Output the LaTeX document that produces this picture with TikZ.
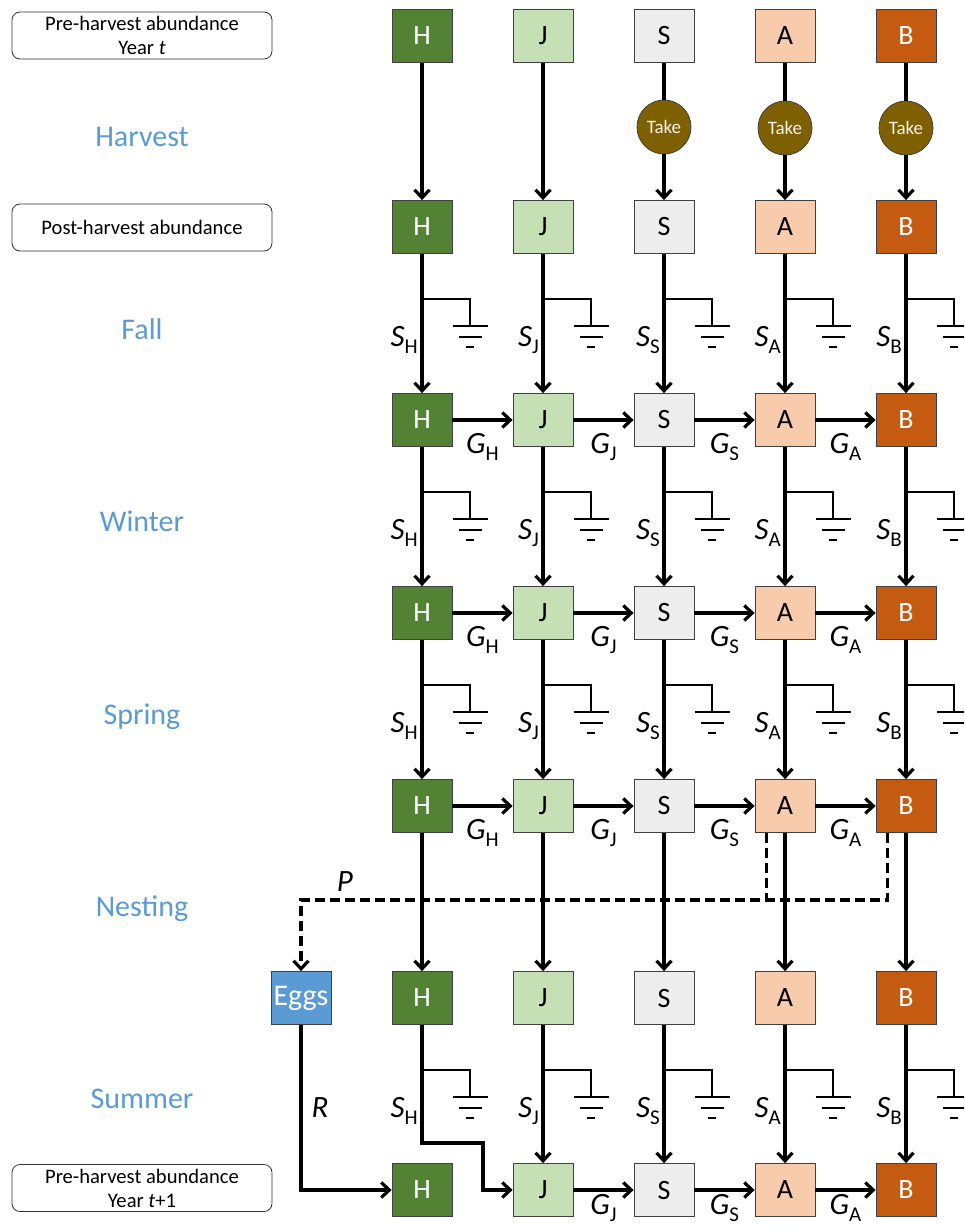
\documentclass[tikz,border=0pt]{standalone}
\usepackage{fontspec}
\setmainfont{Carlito}
\usetikzlibrary{arrows.meta}
\definecolor{hcol}{HTML}{548235}
\definecolor{jcol}{HTML}{C5E0B4}
\definecolor{scol}{HTML}{EDEDED}
\definecolor{acol}{HTML}{F8CBAD}
\definecolor{bcol}{HTML}{C55A11}
\definecolor{eggcol}{HTML}{5B9BD5}
\definecolor{takecol}{HTML}{7F6000}
\definecolor{seasoncol}{HTML}{5B9BD5}
\newcommand{\lbl}[2]{\textit{#1}\raisebox{-7pt}{\fontsize{21}{21}\selectfont#2}}

\begin{document}
\begin{tikzpicture}[x=1pt,y=1pt]
 	\tikzstyle{every node}+=[inner sep=0pt]
 	\tikzstyle{box}=[draw=black!75, line width=0.8pt, minimum width=60pt, minimum height=53pt, font=\fontsize{28}{30}\selectfont]
 	\tikzstyle{hbox}=[box, fill=hcol, text=white]
 	\tikzstyle{jbox}=[box, fill=jcol]
 	\tikzstyle{sbox}=[box, fill=scol]
 	\tikzstyle{abox}=[box, fill=acol]
 	\tikzstyle{bbox}=[box, fill=bcol, text=white]
 	\tikzstyle{eggbox}=[box, fill=eggcol, text=white, font=\fontsize{30}{30}\selectfont]
 	\tikzstyle{take}=[circle, draw=black!75, line width=0.8pt, fill=takecol, text=takecol!8, minimum size=54pt, font=\fontsize{19}{20}\selectfont]
 	\tikzstyle{stage}=[draw=black!80, line width=0.8pt, rounded corners=8pt, minimum width=260pt, minimum height=47pt, align=center, font=\fontsize{20.6}{24}\selectfont]
 	\tikzstyle{season}=[text=seasoncol, font=\fontsize{30}{32}\selectfont, anchor=base]
 	\tikzstyle{rate}=[font=\fontsize{31}{31}\selectfont, anchor=base]
 	\tikzstyle{surv}=[rate, anchor=base east]
 	\tikzstyle{arr}=[line width=3.2pt, -{Straight Barb[length=8pt,width=15pt]}]
 	\tikzstyle{gnd}=[line width=2pt]
 	\tikzstyle{dsh}=[line width=3.2pt, dash pattern=on 10pt off 5pt]
 	\tikzstyle{dsharr}=[dsh, -{Straight Barb[length=8pt,width=15pt]}]
 	\clip (0,0) rectangle (964,-1230);
 	\draw (142,-35.5) node [stage] (pre0) {Pre-harvest abundance\\Year \textit{t}};
 	\draw (142,-227.5) node [stage] (post) {Post-harvest abundance};
 	\draw (142,-1188) node [stage] (pre1) {Pre-harvest abundance\\Year \textit{t}+1};
 	\draw (142,-147) node [season] (harvest) {Harvest};
 	\draw (142,-339) node [season] (fall) {Fall};
 	\draw (142,-531) node [season] (winter) {Winter};
 	\draw (142,-724) node [season] (spring) {Spring};
 	\draw (142,-916) node [season] (nesting) {Nesting};
 	\draw (142,-1108) node [season] (summer) {Summer};
 	\draw (422,-36) node [hbox] (h0) {H};
 	\draw (543,-36) node [jbox] (j0) {J};
 	\draw (664,-36) node [sbox] (s0) {S};
 	\draw (785,-36) node [abox] (a0) {A};
 	\draw (906,-36) node [bbox] (b0) {B};
 	\draw (664,-127) node [take] (tks) {Take};
 	\draw (785,-128) node [take] (tka) {Take};
 	\draw (906,-128) node [take] (tkb) {Take};
 	\draw (422,-227) node [hbox] (h1) {H};
 	\draw (543,-227) node [jbox] (j1) {J};
 	\draw (664,-227) node [sbox] (s1) {S};
 	\draw (785,-227) node [abox] (a1) {A};
 	\draw (906,-227) node [bbox] (b1) {B};
 	\draw (422,-420) node [hbox] (h2) {H};
 	\draw (543,-420) node [jbox] (j2) {J};
 	\draw (664,-420) node [sbox] (s2) {S};
 	\draw (785,-420) node [abox] (a2) {A};
 	\draw (906,-420) node [bbox] (b2) {B};
 	\draw (422,-613) node [hbox] (h3) {H};
 	\draw (543,-613) node [jbox] (j3) {J};
 	\draw (664,-613) node [sbox] (s3) {S};
 	\draw (785,-613) node [abox] (a3) {A};
 	\draw (906,-613) node [bbox] (b3) {B};
 	\draw (422,-806) node [hbox] (h4) {H};
 	\draw (543,-806) node [jbox] (j4) {J};
 	\draw (664,-806) node [sbox] (s4) {S};
 	\draw (785,-806) node [abox] (a4) {A};
 	\draw (906,-806) node [bbox] (b4) {B};
 	\draw (301,-998) node [eggbox] (eggs) {Eggs};
 	\draw (422,-998) node [hbox] (h5) {H};
 	\draw (543,-998) node [jbox] (j5) {J};
 	\draw (664,-998) node [sbox] (s5) {S};
 	\draw (785,-998) node [abox] (a5) {A};
 	\draw (906,-998) node [bbox] (b5) {B};
 	\draw (422,-1190) node [hbox] (h6) {H};
 	\draw (543,-1190) node [jbox] (j6) {J};
 	\draw (664,-1190) node [sbox] (s6) {S};
 	\draw (785,-1190) node [abox] (a6) {A};
 	\draw (906,-1190) node [bbox] (b6) {B};
 	\draw [arr] (h0) -- (h1);
 	\draw [arr] (j0) -- (j1);
 	\draw [line width=3.2pt] (s0) -- (tks);
 	\draw [arr] (tks) -- (s1);
 	\draw [line width=3.2pt] (a0) -- (tka);
 	\draw [arr] (tka) -- (a1);
 	\draw [line width=3.2pt] (b0) -- (tkb);
 	\draw [arr] (tkb) -- (b1);
 	\draw [gnd] (422,-299) -- ++(48,0) -- ++(0,-27) ++(-17.5,0) -- ++(35,0) ++(-29,-10.5) -- ++(23,0) ++(-15.5,-10.5) -- ++(8,0);
 	\draw [gnd] (543,-299) -- ++(48,0) -- ++(0,-27) ++(-17.5,0) -- ++(35,0) ++(-29,-10.5) -- ++(23,0) ++(-15.5,-10.5) -- ++(8,0);
 	\draw [gnd] (664,-299) -- ++(48,0) -- ++(0,-27) ++(-17.5,0) -- ++(35,0) ++(-29,-10.5) -- ++(23,0) ++(-15.5,-10.5) -- ++(8,0);
 	\draw [gnd] (785,-299) -- ++(48,0) -- ++(0,-27) ++(-17.5,0) -- ++(35,0) ++(-29,-10.5) -- ++(23,0) ++(-15.5,-10.5) -- ++(8,0);
 	\draw [gnd] (906,-299) -- ++(48,0) -- ++(0,-27) ++(-17.5,0) -- ++(35,0) ++(-29,-10.5) -- ++(23,0) ++(-15.5,-10.5) -- ++(8,0);
 	\draw [arr] (h1) -- (h2);
 	\draw [arr] (j1) -- (j2);
 	\draw [arr] (s1) -- (s2);
 	\draw [arr] (a1) -- (a2);
 	\draw [arr] (b1) -- (b2);
 	\draw (418,-346) node [surv] {\lbl{S}{H}};
 	\draw (539,-346) node [surv] {\lbl{S}{J}};
 	\draw (660,-346) node [surv] {\lbl{S}{S}};
 	\draw (781,-346) node [surv] {\lbl{S}{A}};
 	\draw (902,-346) node [surv] {\lbl{S}{B}};
 	\draw [arr] (h2) -- (j2);
 	\draw [arr] (j2) -- (s2);
 	\draw [arr] (s2) -- (a2);
 	\draw [arr] (a2) -- (b2);
 	\draw (482.5,-453) node [rate] {\lbl{G}{H}};
 	\draw (603.5,-453) node [rate] {\lbl{G}{J}};
 	\draw (724.5,-453) node [rate] {\lbl{G}{S}};
 	\draw (845.5,-453) node [rate] {\lbl{G}{A}};
 	\draw [gnd] (422,-492) -- ++(48,0) -- ++(0,-27) ++(-17.5,0) -- ++(35,0) ++(-29,-10.5) -- ++(23,0) ++(-15.5,-10.5) -- ++(8,0);
 	\draw [gnd] (543,-492) -- ++(48,0) -- ++(0,-27) ++(-17.5,0) -- ++(35,0) ++(-29,-10.5) -- ++(23,0) ++(-15.5,-10.5) -- ++(8,0);
 	\draw [gnd] (664,-492) -- ++(48,0) -- ++(0,-27) ++(-17.5,0) -- ++(35,0) ++(-29,-10.5) -- ++(23,0) ++(-15.5,-10.5) -- ++(8,0);
 	\draw [gnd] (785,-492) -- ++(48,0) -- ++(0,-27) ++(-17.5,0) -- ++(35,0) ++(-29,-10.5) -- ++(23,0) ++(-15.5,-10.5) -- ++(8,0);
 	\draw [gnd] (906,-492) -- ++(48,0) -- ++(0,-27) ++(-17.5,0) -- ++(35,0) ++(-29,-10.5) -- ++(23,0) ++(-15.5,-10.5) -- ++(8,0);
 	\draw [arr] (h2) -- (h3);
 	\draw [arr] (j2) -- (j3);
 	\draw [arr] (s2) -- (s3);
 	\draw [arr] (a2) -- (a3);
 	\draw [arr] (b2) -- (b3);
 	\draw (418,-539) node [surv] {\lbl{S}{H}};
 	\draw (539,-539) node [surv] {\lbl{S}{J}};
 	\draw (660,-539) node [surv] {\lbl{S}{S}};
 	\draw (781,-539) node [surv] {\lbl{S}{A}};
 	\draw (902,-539) node [surv] {\lbl{S}{B}};
 	\draw [arr] (h3) -- (j3);
 	\draw [arr] (j3) -- (s3);
 	\draw [arr] (s3) -- (a3);
 	\draw [arr] (a3) -- (b3);
 	\draw (482.5,-646) node [rate] {\lbl{G}{H}};
 	\draw (603.5,-646) node [rate] {\lbl{G}{J}};
 	\draw (724.5,-646) node [rate] {\lbl{G}{S}};
 	\draw (845.5,-646) node [rate] {\lbl{G}{A}};
 	\draw [gnd] (422,-685) -- ++(48,0) -- ++(0,-27) ++(-17.5,0) -- ++(35,0) ++(-29,-10.5) -- ++(23,0) ++(-15.5,-10.5) -- ++(8,0);
 	\draw [gnd] (543,-685) -- ++(48,0) -- ++(0,-27) ++(-17.5,0) -- ++(35,0) ++(-29,-10.5) -- ++(23,0) ++(-15.5,-10.5) -- ++(8,0);
 	\draw [gnd] (664,-685) -- ++(48,0) -- ++(0,-27) ++(-17.5,0) -- ++(35,0) ++(-29,-10.5) -- ++(23,0) ++(-15.5,-10.5) -- ++(8,0);
 	\draw [gnd] (785,-685) -- ++(48,0) -- ++(0,-27) ++(-17.5,0) -- ++(35,0) ++(-29,-10.5) -- ++(23,0) ++(-15.5,-10.5) -- ++(8,0);
 	\draw [gnd] (906,-685) -- ++(48,0) -- ++(0,-27) ++(-17.5,0) -- ++(35,0) ++(-29,-10.5) -- ++(23,0) ++(-15.5,-10.5) -- ++(8,0);
 	\draw [arr] (h3) -- (h4);
 	\draw [arr] (j3) -- (j4);
 	\draw [arr] (s3) -- (s4);
 	\draw [arr] (a3) -- (a4);
 	\draw [arr] (b3) -- (b4);
 	\draw (418,-732) node [surv] {\lbl{S}{H}};
 	\draw (539,-732) node [surv] {\lbl{S}{J}};
 	\draw (660,-732) node [surv] {\lbl{S}{S}};
 	\draw (781,-732) node [surv] {\lbl{S}{A}};
 	\draw (902,-732) node [surv] {\lbl{S}{B}};
 	\draw [arr] (h4) -- (j4);
 	\draw [arr] (j4) -- (s4);
 	\draw [arr] (s4) -- (a4);
 	\draw [arr] (a4) -- (b4);
 	\draw (482.5,-839) node [rate] {\lbl{G}{H}};
 	\draw (603.5,-839) node [rate] {\lbl{G}{J}};
 	\draw (724.5,-839) node [rate] {\lbl{G}{S}};
 	\draw (845.5,-839) node [rate] {\lbl{G}{A}};
 	\draw [arr] (h4) -- (h5);
 	\draw [arr] (j4) -- (j5);
 	\draw [arr] (s4) -- (s5);
 	\draw [arr] (a4) -- (a5);
 	\draw [arr] (b4) -- (b5);
 	\draw [dsh] (a4.south west) ++(12,0) -- ++(0,-67);
 	\draw [dsharr] (b4.south west) ++(12,0) -- ++(0,-67) -| (eggs);
 	\draw (345,-891) node [rate] {\textit{P}};
 	\draw [arr] (eggs) |- (h6);
 	\draw (320,-1117) node [rate] {\textit{R}};
 	\draw [gnd] (422,-1070) -- ++(48,0) -- ++(0,-27) ++(-17.5,0) -- ++(35,0) ++(-29,-10.5) -- ++(23,0) ++(-15.5,-10.5) -- ++(8,0);
 	\draw [gnd] (543,-1070) -- ++(48,0) -- ++(0,-27) ++(-17.5,0) -- ++(35,0) ++(-29,-10.5) -- ++(23,0) ++(-15.5,-10.5) -- ++(8,0);
 	\draw [gnd] (664,-1070) -- ++(48,0) -- ++(0,-27) ++(-17.5,0) -- ++(35,0) ++(-29,-10.5) -- ++(23,0) ++(-15.5,-10.5) -- ++(8,0);
 	\draw [gnd] (785,-1070) -- ++(48,0) -- ++(0,-27) ++(-17.5,0) -- ++(35,0) ++(-29,-10.5) -- ++(23,0) ++(-15.5,-10.5) -- ++(8,0);
 	\draw [gnd] (906,-1070) -- ++(48,0) -- ++(0,-27) ++(-17.5,0) -- ++(35,0) ++(-29,-10.5) -- ++(23,0) ++(-15.5,-10.5) -- ++(8,0);
 	\coordinate (hk) at (483,-1143);
 	\draw [arr] (h5) |- (hk) |- (j6);
 	\draw [arr] (j5) -- (j6);
 	\draw [arr] (s5) -- (s6);
 	\draw [arr] (a5) -- (a6);
 	\draw [arr] (b5) -- (b6);
 	\draw (418,-1117) node [surv] {\lbl{S}{H}};
 	\draw (539,-1117) node [surv] {\lbl{S}{J}};
 	\draw (660,-1117) node [surv] {\lbl{S}{S}};
 	\draw (781,-1117) node [surv] {\lbl{S}{A}};
 	\draw (902,-1117) node [surv] {\lbl{S}{B}};
 	\draw [arr] (j6) -- (s6);
 	\draw [arr] (s6) -- (a6);
 	\draw [arr] (a6) -- (b6);
 	\draw (603.5,-1214) node [rate] {\lbl{G}{J}};
 	\draw (724.5,-1214) node [rate] {\lbl{G}{S}};
 	\draw (845.5,-1214) node [rate] {\lbl{G}{A}};
\end{tikzpicture}
\end{document}
